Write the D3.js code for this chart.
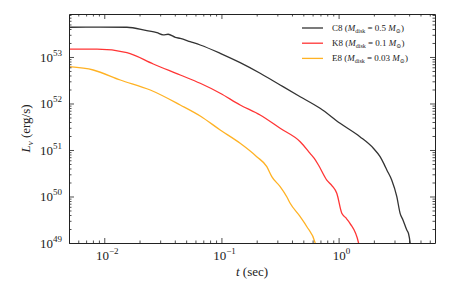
<!DOCTYPE html>
<html>
<head>
<meta charset="utf-8">
<script src="https://cdn.jsdelivr.net/npm/d3@7"></script>
<style>
body { margin: 0; background: #fff; }
</style>
</head>
<body>
<svg id="chart" width="458" height="286"></svg>
<script>
// series: [t (sec), L_nu (erg/s)]
var c8 = [[0.00503,4.36e53],[0.00924,4.38e53],[0.0156,4.36e53],[0.0231,3.68e53],[0.0281,3.34e53],[0.0318,3.0e53],
  [0.0351,3.08e53],[0.0404,2.65e53],[0.0445,2.50e53],[0.0541,2.13e53],[0.0659,1.81e53],[0.0976,1.20e53],
  [0.1445,7.54e52],[0.214,4.46e52],[0.317,2.50e52],[0.470,1.40e52],[0.695,7.88e51],[1.03,3.75e51],
  [1.52,1.93e51],[1.98,1.09e51],[2.26,7.18e50],[2.45,4.9e50],[2.58,3.72e50],[2.84,2.26e50],[3.14,9.9e49],
  [3.35,4.35e49],[3.55,3.1e49],[3.82,1.90e49],[3.95,1.6e49],[4.08,1.0e49],[4.12,8e48]];
var k8 = [[0.00503,1.47e53],[0.00867,1.47e53],[0.0156,1.24e53],[0.0262,7.07e52],[0.0445,4.10e52],[0.0659,2.72e52],
  [0.0976,1.66e52],[0.1445,9.29e51],[0.214,5.66e51],[0.317,2.93e51],[0.470,1.51e51],[0.571,8.49e50],
  [0.62,6.6e50],[0.673,4.76e50],[0.793,2.26e50],[0.88,1.7e50],[0.965,1.17e50],[1.065,4.35e49],[1.15,3.5e49],
  [1.25,2.65e49],[1.48,1.0e49],[1.50,8e48]];
var e8 = [[0.00503,6.18e52],[0.00805,5.25e52],[0.0137,3.20e52],[0.0247,1.95e52],[0.0445,9.29e51],[0.0659,5.38e51],
  [0.0976,2.69e51],[0.1445,1.39e51],[0.200,7.18e50],[0.244,4.38e50],[0.269,2.67e50],[0.317,1.63e50],
  [0.361,9.9e49],[0.386,7.14e49],[0.470,3.68e49],[0.536,2.24e49],[0.631,1.0e49],[0.64,8e48]];

var seriesNames = ["C8", "K8", "E8"];
var diskMass = ["0.5", "0.1", "0.03"];
var seriesColors = ["#333333", "#ff3535", "#ffb224"];
var xMajor = [0.01, 0.1, 1];
var yMajor = [1e49, 1e50, 1e51, 1e52, 1e53];

var FONT = "'Liberation Serif', 'DejaVu Serif', serif";
var svg = d3.select("#chart");
var margin = {top: 14, left: 69, bottom: 43, right: 23};
var W = 458, H = 286;

var x = d3.scaleLog().domain([0.005, 6.65]).range([margin.left, W - margin.right]);
var y = d3.scaleLog().domain([1e49, 8.4e53]).range([H - margin.bottom, margin.top]);

// minor ticks
function minors(lo, hi) {
    var out = [];
    for (var e = lo; e <= hi; e++) for (var m = 2; m <= 9; m++) out.push(m * Math.pow(10, e));
    return out;
}
var xMinor = minors(-3, 0).filter(d => d > 0.005 && d < 6.65);
var yMinor = minors(49, 53).filter(d => d < 8.4e53);

svg.append("clipPath").attr("id", "clip").append("rect")
    .attr("x", margin.left).attr("y", margin.top)
    .attr("width", W - margin.left - margin.right).attr("height", H - margin.top - margin.bottom);

var line = d3.line().x(d => x(d[0])).y(d => y(d[1])).curve(d3.curveMonotoneX);
[c8, k8, e8].forEach(function(s, i) {
    svg.append("path").datum(s)
        .attr("clip-path", "url(#clip)")
        .attr("fill", "none")
        .attr("stroke", seriesColors[i])
        .attr("stroke-width", 1.3)
        .attr("stroke-linejoin", "round")
        .attr("d", line);
});

// axes with inward ticks on all four sides
function axisG(axis, tx, ty) {
    var g = svg.append("g").attr("transform", `translate(${tx},${ty})`).call(axis);
    g.selectAll("text").remove();
    g.select(".domain").attr("stroke", "#222").attr("stroke-width", 1);
    g.selectAll(".tick line").attr("stroke", "#222").attr("stroke-width", 0.8);
    return g;
}
var b = H - margin.bottom, t = margin.top, l = margin.left, r = W - margin.right;
axisG(d3.axisBottom(x).tickValues(xMajor).tickSize(-5).tickSizeOuter(0), 0, b);
axisG(d3.axisBottom(x).tickValues(xMinor).tickSize(-2.5).tickSizeOuter(0), 0, b).select(".domain").remove();
axisG(d3.axisTop(x).tickValues(xMajor).tickSize(-5).tickSizeOuter(0), 0, t);
axisG(d3.axisTop(x).tickValues(xMinor).tickSize(-2.5).tickSizeOuter(0), 0, t).select(".domain").remove();
axisG(d3.axisLeft(y).tickValues(yMajor).tickSize(-5).tickSizeOuter(0), l, 0);
axisG(d3.axisLeft(y).tickValues(yMinor).tickSize(-2.5).tickSizeOuter(0), l, 0).select(".domain").remove();
axisG(d3.axisRight(y).tickValues(yMajor).tickSize(-5).tickSizeOuter(0), r, 0);
axisG(d3.axisRight(y).tickValues(yMinor).tickSize(-2.5).tickSizeOuter(0), r, 0).select(".domain").remove();

// tick labels 10^n
function pow10Label(sel, exp) {
    sel.append("tspan").text("10");
    sel.append("tspan").attr("dy", -6).attr("font-size", 9).text(exp);
}
xMajor.forEach(function(v) {
    var e = Math.round(Math.log10(v));
    svg.append("text").attr("x", x(v) + 3).attr("y", b + 17).attr("text-anchor", "middle")
        .attr("font-family", FONT).attr("font-size", 13).attr("fill", "#222")
        .call(pow10Label, e < 0 ? "\u2212" + (-e) : String(e));
});
yMajor.forEach(function(v) {
    var e = Math.round(Math.log10(v));
    svg.append("text").attr("x", l - 7).attr("y", y(v) + 5).attr("text-anchor", "end")
        .attr("font-family", FONT).attr("font-size", 13).attr("fill", "#222")
        .call(pow10Label, String(e));
});

// axis titles
var xl = svg.append("text").attr("x", (l + r) / 2).attr("y", 276).attr("text-anchor", "middle")
    .attr("font-family", FONT).attr("font-size", 13).attr("fill", "#222");
xl.append("tspan").attr("font-style", "italic").text("t");
xl.append("tspan").text(" (sec)");

var yl = svg.append("text").attr("transform", `translate(30,${(t + b) / 2}) rotate(-90)`)
    .attr("text-anchor", "middle").attr("font-family", FONT).attr("font-size", 13).attr("fill", "#222");
yl.append("tspan").attr("font-style", "italic").text("L");
yl.append("tspan").attr("dy", 3).attr("font-size", 9).attr("font-style", "italic").text("\u03bd");
yl.append("tspan").attr("dy", -3).text(" (erg/s)");

// legend
seriesNames.forEach(function(n, i) {
    var ly = 28 + i * 15.2;
    svg.append("line").attr("x1", 302).attr("x2", 323).attr("y1", ly).attr("y2", ly)
        .attr("stroke", seriesColors[i]).attr("stroke-width", 1.3);
    var tx = svg.append("text").attr("x", 332).attr("y", ly + 3)
        .attr("font-family", FONT).attr("font-size", 9).attr("fill", "#222");
    tx.append("tspan").text(n + " (");
    tx.append("tspan").attr("font-style", "italic").text("M");
    tx.append("tspan").attr("dy", 2).attr("font-size", 6).text("disk");
    tx.append("tspan").attr("dy", -2).text(" = " + diskMass[i] + " ");
    tx.append("tspan").attr("font-style", "italic").text("M");
    tx.append("tspan").attr("dy", 2).attr("font-size", 6).text("\u2299");
    tx.append("tspan").attr("dy", -2).text(")");
});
</script>
</body>
</html>
